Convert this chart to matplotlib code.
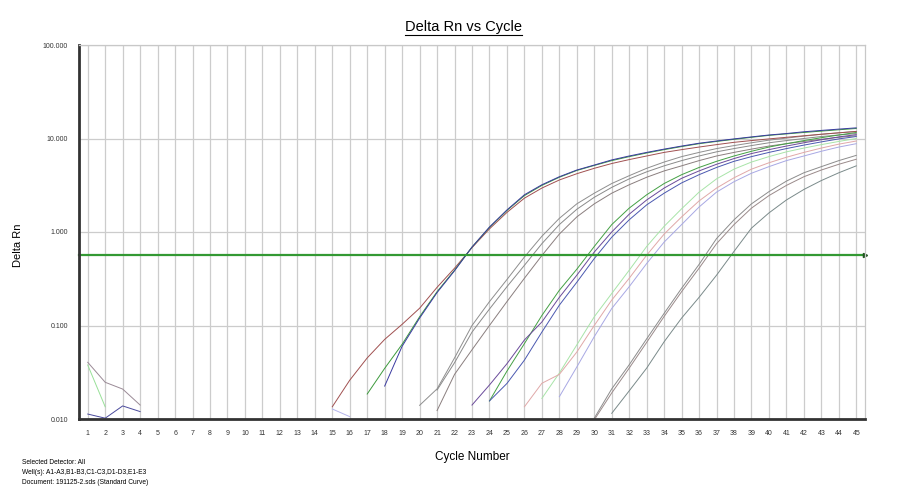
import matplotlib
matplotlib.use('Agg')
import matplotlib.pyplot as plt
from matplotlib.lines import Line2D

plt.rcParams['font.family'] = ['Liberation Sans', 'DejaVu Sans']

cycles = list(range(1, 46))
y_ticks = [0.01, 0.1, 1, 10, 100]
y_ticklabels = ['0.010', '0.100', '1.000', '10.000', '100.000']
threshold = 0.57

# each well: first cycle shown, then Delta Rn per cycle (values < 0.010 are not drawn)
noise_grey = (1, [0.0404, 0.0247, 0.0209, 0.0141])
noise_green = (1, [0.0378, 0.0135])
noise_blue = (1, [0.0113, 0.0102, 0.0138, 0.0120])
noise_lblue = (15, [0.0128, 0.0106])

g1_brown = (15, [0.0135, 0.026, 0.045, 0.071, 0.103, 0.153, 0.256, 0.41, 0.68, 1.08,
                 1.62, 2.3, 2.95, 3.6, 4.2, 4.8, 5.4, 5.95, 6.5, 7.1, 7.6, 8.1, 8.6,
                 9.1, 9.5, 9.9, 10.3, 10.7, 11.1, 11.5, 11.9])
g1_green = (17, [0.0185, 0.0348, 0.063, 0.124, 0.23, 0.39, 0.69, 1.12, 1.70, 2.45,
                 3.15, 3.85, 4.55, 5.15, 5.8, 6.4, 7.0, 7.6, 8.2, 8.8, 9.3, 9.8, 10.3,
                 10.8, 11.2, 11.6, 12.0, 12.4, 12.8])
g1_blue = (18, [0.0225, 0.060, 0.12, 0.225, 0.385, 0.69, 1.13, 1.72, 2.5, 3.2, 3.9,
                4.6, 5.2, 5.9, 6.5, 7.1, 7.7, 8.3, 8.9, 9.4, 9.9, 10.4, 10.9, 11.3,
                11.8, 12.2, 12.6, 13.0])

g2_a = (20, [0.014, 0.021, 0.045, 0.10, 0.18, 0.31, 0.54, 0.90, 1.4, 2.0, 2.6, 3.3,
             4.0, 4.8, 5.6, 6.4, 7.1, 7.8, 8.4, 9.0, 9.6, 10.1, 10.6, 11.1, 11.5, 11.9])
g2_b = (21, [0.0204, 0.040, 0.085, 0.15, 0.26, 0.44, 0.75, 1.2, 1.75, 2.35, 3.0, 3.7,
             4.4, 5.1, 5.8, 6.5, 7.2, 7.8, 8.4, 9.0, 9.5, 10.0, 10.5, 10.9, 11.3])
g2_c = (21, [0.0123, 0.030, 0.055, 0.10, 0.18, 0.32, 0.56, 0.95, 1.45, 2.0, 2.6, 3.2,
             3.85, 4.5, 5.1, 5.8, 6.5, 7.1, 7.7, 8.3, 8.8, 9.3, 9.8, 10.3, 10.7])

g3_green = (24, [0.0156, 0.0325, 0.064, 0.128, 0.238, 0.40, 0.70, 1.2, 1.8, 2.5, 3.3,
                 4.1, 4.9, 5.7, 6.5, 7.3, 8.1, 8.8, 9.5, 10.2, 10.9, 11.6])
g3_purple = (23, [0.0141, 0.0231, 0.039, 0.070, 0.109, 0.20, 0.345, 0.61, 1.0, 1.55,
                  2.2, 2.95, 3.75, 4.5, 5.3, 6.1, 6.9, 7.6, 8.3, 9.0, 9.7, 10.4, 11.0])
g3_blue = (24, [0.0156, 0.0240, 0.0426, 0.085, 0.165, 0.29, 0.52, 0.88, 1.35, 1.95,
                2.6, 3.35, 4.1, 4.9, 5.7, 6.4, 7.1, 7.8, 8.5, 9.2, 9.9, 10.5])

g4_lgreen = (27, [0.0166, 0.031, 0.062, 0.124, 0.22, 0.39, 0.70, 1.15, 1.77, 2.67,
                  3.7, 4.7, 5.6, 6.4, 7.2, 7.9, 8.6, 9.3, 10.0])
g4_pink = (26, [0.0135, 0.0241, 0.030, 0.052, 0.10, 0.187, 0.32, 0.565, 0.95, 1.45,
                2.15, 2.95, 3.8, 4.7, 5.5, 6.3, 7.1, 7.9, 8.7, 9.4])
g4_lblue = (28, [0.0173, 0.036, 0.076, 0.152, 0.26, 0.46, 0.78, 1.2, 1.85, 2.67, 3.45,
                 4.25, 5.0, 5.8, 6.5, 7.3, 8.1, 8.8])

g5_a = (30, [0.0102, 0.021, 0.038, 0.072, 0.135, 0.25, 0.45, 0.85, 1.35, 2.0, 2.7,
             3.5, 4.3, 5.0, 5.8, 6.6])
g5_b = (30, [0.0098, 0.019, 0.035, 0.066, 0.125, 0.23, 0.41, 0.75, 1.2, 1.8, 2.45,
             3.15, 3.9, 4.6, 5.3, 6.0])
g5_c = (31, [0.0115, 0.020, 0.035, 0.067, 0.12, 0.20, 0.345, 0.62, 1.1, 1.6, 2.2,
             2.85, 3.55, 4.3, 5.1])

wells = [noise_grey, noise_green, noise_blue, noise_lblue,
         g5_a, g5_b, g5_c, g4_lgreen, g4_pink, g4_lblue,
         g2_a, g2_b, g2_c, g3_green, g3_purple, g3_blue,
         g1_brown, g1_green, g1_blue]
colors = ['#9a8a96', '#98e098', '#4a4a9c', '#b4b4ec',
          '#8c8c8c', '#9a8a8a', '#7a8a8a', '#a8e4a8', '#e0a8a8', '#a8a8e4',
          '#8e8e8e', '#8a8a8a', '#8a7e7e', '#44a044', '#6a4a9a', '#4a58b0',
          '#a05050', '#3c9a3c', '#3a3aa0']

fig = plt.figure(figsize=(9, 5), dpi=100)
ax = fig.add_axes([79 / 900, 1 - 419 / 500, 786 / 900, 374 / 500])

for (start, vals), col in zip(wells, colors):
    xs = list(range(start, start + len(vals)))
    ax.plot(xs, vals, color=col, lw=0.7)

ax.plot([0.5, 45.5], [threshold, threshold], color='#339933', lw=1.6, clip_on=False)
ax.plot([45.5], [threshold], marker='>', ms=3, color='#225522', clip_on=False)

ax.set_yscale('log')
ax.set_xlim(0.5, 45.5)
ax.set_ylim(0.01, 100)
ax.set_xticks(cycles)
ax.set_xticklabels([str(c) for c in cycles], fontsize=5, color='#333333')
ax.set_yticks(y_ticks)
ax.set_yticklabels(y_ticklabels, fontsize=5, color='#333333')
ax.minorticks_off()
ax.tick_params(length=0, pad=8)
ax.grid(True, color='#cccccc', lw=0.9)
ax.set_axisbelow(True)
for side in ['left', 'bottom']:
    ax.spines[side].set_color('#333333')
    ax.spines[side].set_linewidth(2)
for side in ['top', 'right']:
    ax.spines[side].set_color('#c8c8c8')
    ax.spines[side].set_linewidth(0.9)

ax.set_xlabel('Cycle Number', fontsize=8.5, labelpad=10)
fig.text(18 / 900, 1 - 245 / 500, 'Delta Rn', rotation=90, fontsize=8,
         ha='center', va='center')

title = fig.text(463 / 900, 1 - 27 / 500, 'Delta Rn vs Cycle', fontsize=10.5,
                 ha='center', va='center')
fig.canvas.draw()
bb = title.get_window_extent()
uy = (bb.y0 - 1) / fig.bbox.height
fig.add_artist(Line2D([bb.x0 / fig.bbox.width, bb.x1 / fig.bbox.width], [uy, uy],
                      color='black', lw=0.8, transform=fig.transFigure))

footer = ['Selected Detector: All',
          'Well(s): A1-A3,B1-B3,C1-C3,D1-D3,E1-E3',
          'Document: 191125-2.sds (Standard Curve)']
for i, line in enumerate(footer):
    fig.text(22 / 900, 1 - (463 + i * 10) / 500, line, fontsize=4.8,
             ha='left', va='center')

fig.savefig('out.png', dpi=100)
